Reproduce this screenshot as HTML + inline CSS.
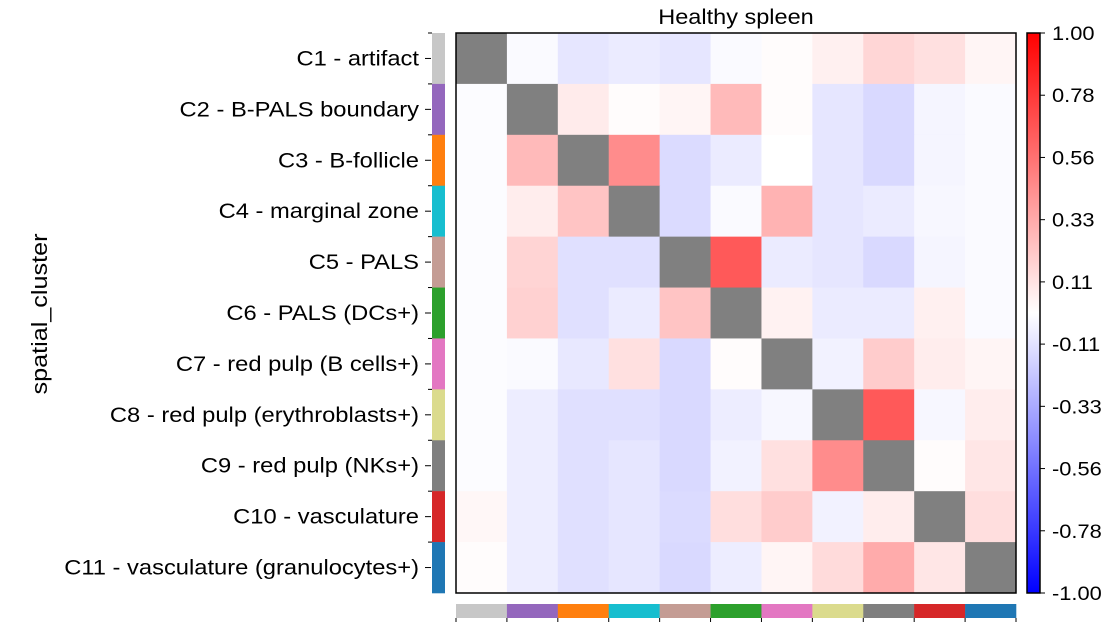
<!DOCTYPE html>
<html><head><meta charset="utf-8"><style>
body{margin:0;background:#fff;}
svg{font-family:"Liberation Sans",Arial,sans-serif;}
</style></head><body>
<svg id="chart" width="1120" height="629"></svg>
<script>
const categories=["C1 - artifact","C2 - B-PALS boundary","C3 - B-follicle","C4 - marginal zone","C5 - PALS","C6 - PALS (DCs+)","C7 - red pulp (B cells+)","C8 - red pulp (erythroblasts+)","C9 - red pulp (NKs+)","C10 - vasculature","C11 - vasculature (granulocytes+)"];
const clusterColors=["#c7c7c7","#9467bd","#ff7f0e","#17becf","#c49c94","#2ca02c","#e377c2","#dbdb8d","#7f7f7f","#d62728","#1f77b4"];
const N=null;
const values=[
[N,-0.02,-0.1,-0.08,-0.1,-0.02,0.01,0.06,0.16,0.12,0.04],
[-0.01,N,0.08,0.01,0.04,0.27,0.01,-0.1,-0.15,-0.04,-0.02],
[-0.01,0.27,N,0.45,-0.14,-0.08,0,-0.1,-0.15,-0.04,-0.02],
[-0.01,0.07,0.23,N,-0.14,-0.02,0.3,-0.1,-0.08,-0.03,-0.02],
[-0.01,0.17,-0.12,-0.12,N,0.65,-0.08,-0.1,-0.15,-0.04,-0.02],
[-0.01,0.18,-0.12,-0.08,0.23,N,0.05,-0.08,-0.08,0.06,-0.02],
[-0.01,-0.02,-0.09,0.12,-0.15,0.01,N,-0.05,0.2,0.07,0.04],
[-0.01,-0.07,-0.12,-0.12,-0.15,-0.07,-0.03,N,0.65,-0.03,0.07],
[-0.01,-0.07,-0.12,-0.1,-0.15,-0.05,0.12,0.45,N,0.01,0.1],
[0.03,-0.07,-0.12,-0.1,-0.14,0.13,0.2,-0.05,0.07,N,0.13],
[0.01,-0.07,-0.12,-0.1,-0.15,-0.07,0.04,0.14,0.33,0.1,N]];
const cbTicks=["1.00","0.78","0.56","0.33","0.11","-0.11","-0.33","-0.56","-0.78","-1.00"];

const svg=document.getElementById('chart');
const NS="http://www.w3.org/2000/svg";
function mk(t,a,p){const e=document.createElementNS(NS,t);for(const k in a)e.setAttribute(k,a[k]);(p||svg).appendChild(e);return e;}
const X0=456,Y0=33,W=560,H=560,n=categories.length,cw=W/n,ch=H/n;
const xs=j=>X0+j*cw, ys=i=>Y0+i*ch;
function bwr(v){if(v>=0){const g=Math.round(255*(1-v));return `rgb(255,${g},${g})`;}const g=Math.round(255*(1+v));return `rgb(${g},${g},255)`;}

const t0=mk('text',{transform:'translate(736,24) scale(1.12,1)','text-anchor':'middle','font-size':21,fill:'#000'});
t0.textContent="Healthy spleen";



values.forEach((row,i)=>row.forEach((v,j)=>{
 const r=mk('rect',{x:xs(j),y:ys(i),width:cw+0.5,height:ch+0.5,fill:v===null?'#808080':bwr(v)});
 
 
}));
const fr=mk('rect',{x:X0,y:Y0,width:W,height:H,fill:'none',stroke:'#000','stroke-width':1.5});



categories.forEach((c,i)=>{
 const r=mk('rect',{x:432,y:ys(i),width:13,height:ch+0.3,fill:clusterColors[i]});
 
 
 mk('line',{x1:425,x2:431,y1:ys(i)+ch/2,y2:ys(i)+ch/2,stroke:'#000','stroke-width':1});
 mk('line',{x1:428,x2:432,y1:ys(i),y2:ys(i),stroke:'#000','stroke-width':1});
 const t=mk('text',{transform:`translate(419,${ys(i)+ch/2+7}) scale(1.13,1)`,'text-anchor':'end','font-size':21,fill:'#000'});
 t.textContent=c;
 
 
 const b=mk('rect',{x:xs(i),y:604,width:cw+0.3,height:14,fill:clusterColors[i]});
 
 
 mk('line',{x1:xs(i),x2:xs(i),y1:618,y2:622,stroke:'#000','stroke-width':1});
});
mk('line',{x1:X0+W,x2:X0+W,y1:618,y2:622,stroke:'#000','stroke-width':1});

const yt=mk('text',{x:0,y:0,transform:'translate(47,314) rotate(-90) scale(1.2,1.05)','text-anchor':'middle','font-size':21,fill:'#000'});
yt.textContent="spatial_cluster";



const defs=mk('defs',{});
const lg=mk('linearGradient',{id:'cb',x1:0,y1:0,x2:0,y2:1},defs);
mk('stop',{offset:'0','stop-color':'#ff0000'},lg);
mk('stop',{offset:'0.5','stop-color':'#ffffff'},lg);
mk('stop',{offset:'1','stop-color':'#0000ff'},lg);
const cb=mk('rect',{x:1027,y:Y0,width:13,height:H,fill:'url(#cb)',stroke:'#000','stroke-width':1.5});


cbTicks.forEach((t,k)=>{
 const y=Y0+k*H/(cbTicks.length-1);
 mk('line',{x1:1040,x2:1045,y1:y,y2:y,stroke:'#000','stroke-width':1});
 const tx=mk('text',{transform:`translate(1052,${y+7}) scale(1.15,1)`,'font-size':19,fill:'#000'});
 tx.textContent=t;
 
 
});
</script>
</body></html>
